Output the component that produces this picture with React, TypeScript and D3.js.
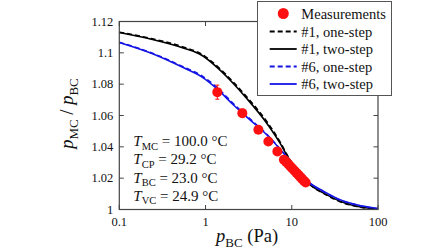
import React from "react";
import * as d3 from "d3";

// ---- data ----
const measP = [1.37, 2.67, 4.1, 5.35, 6.81, 8.1, 8.6, 9.1, 9.6, 10.1, 10.7, 11.3, 11.9, 12.5, 13.1, 13.8, 14.5];
const measR = [1.0749, 1.0615, 1.0509, 1.0434, 1.0371, 1.0318, 1.0304, 1.029, 1.0276, 1.0263, 1.0249, 1.0235, 1.0222, 1.0209, 1.0197, 1.0184, 1.0172];
const measErr = [0.0045, 0.0025, 0.0022, 0.002, 0.0018, 0.0015, 0.0015, 0.0015, 0.0015, 0.0015, 0.0015, 0.0015, 0.0015, 0.0015, 0.0015, 0.0015, 0.0015];

const s1P = [0.1, 0.235, 0.574, 0.894, 1.4, 2.18, 2.97, 5.13, 7.31, 9.14, 16.3, 23.3, 36.3, 56.8, 100];
const s1TwoStep = [1.113, 1.1087, 1.1028, 1.0986, 1.0901, 1.0795, 1.0712, 1.0551, 1.0424, 1.0329, 1.0159, 1.0106, 1.0053, 1.0021, 1.0003];
const s1OneStep = [1.1132, 1.1091, 1.1034, 1.0993, 1.0909, 1.0804, 1.0722, 1.0562, 1.0432, 1.0334, 1.0158, 1.0103, 1.005, 1.0019, 1.0002];

const s6P = [0.1, 0.235, 0.574, 0.894, 1.4, 2.08, 3.28, 5.13, 7.99, 12.5, 16.3, 23.3, 36.3, 56.8, 100];
const s6TwoStep = [1.1066, 1.0997, 1.0901, 1.0848, 1.0763, 1.067, 1.0572, 1.0477, 1.0361, 1.0233, 1.0168, 1.0117, 1.0063, 1.003, 1.0006];
const s6OneStep = [1.1068, 1.1, 1.0906, 1.0855, 1.0772, 1.0678, 1.0578, 1.048, 1.0362, 1.0232, 1.0166, 1.0114, 1.006, 1.0028, 1.0005];

const xTicks = [0.1, 1, 10, 100];
const xTickLabels = ["0.1", "1", "10", "100"];
const yTicks = [1, 1.02, 1.04, 1.06, 1.08, 1.1, 1.12];
const yTickLabels = ["1", "1.02", "1.04", "1.06", "1.08", "1.1", "1.12"];

const legendLabels = ["Measurements", "#1, one-step", "#1, two-step", "#6, one-step", "#6, two-step"];
const annotations = [
  ["T", "MC", " = 100.0 °C"],
  ["T", "CP", " = 29.2 °C"],
  ["T", "BC", " = 23.0 °C"],
  ["T", "VC", " = 24.9 °C"],
];

const FONT = "Liberation Serif, Times New Roman, DejaVu Serif, serif";
const BLUE = "#1414e6";
const RED = "#ff1010";
const ts = { fontFamily: FONT };

export default function App() {
  const W = 448, H = 252;
  const left = 119.3, right = 378, top = 21.5, bottom = 209.5;
  const x = d3.scaleLog().domain([0.1, 100]).range([left, right]);
  const y = d3.scaleLinear().domain([1, 1.12]).range([bottom, top]);

  const mk = (ps: number[], vs: number[]) =>
    d3.line<number>().x((_, i) => x(ps[i])).y((v) => y(v)).curve(d3.curveMonotoneX)(vs) || "";

  const series = [
    { d: mk(s1P, s1TwoStep), color: "#000", dash: undefined },
    { d: mk(s1P, s1OneStep), color: "#000", dash: "5,3" },
    { d: mk(s6P, s6TwoStep), color: BLUE, dash: undefined },
    { d: mk(s6P, s6OneStep), color: BLUE, dash: "5,3" },
  ];

  const tl = 4.5;
  const axisColor = "#444";

  const legX = 257.5, legY = 1.5, legW = 134, legH = 94;
  const legRows = [13.5, 31.5, 49, 66.5, 84];
  const legStyles = [
    null,
    { color: "#000", dash: "5,3" },
    { color: "#000", dash: undefined },
    { color: BLUE, dash: "5,3" },
    { color: BLUE, dash: undefined },
  ];

  return (
    <svg width={W} height={H} style={{ position: "absolute", left: 0, top: 0, background: "#fff", fontFamily: FONT }}>
      <rect x={0} y={0} width={W} height={H} fill="#fff" />
      {/* curves */}
      {series.map((s, i) => (
        <path key={i} d={s.d} fill="none" stroke={s.color} strokeWidth={1.6} strokeDasharray={s.dash} />
      ))}
      {/* error bars */}
      {measP.map((p, i) => (
        <g key={"e" + i} stroke={RED} strokeWidth={1}>
          <line x1={x(p)} x2={x(p)} y1={y(measR[i] - measErr[i])} y2={y(measR[i] + measErr[i])} />
          <line x1={x(p) - 2} x2={x(p) + 2} y1={y(measR[i] - measErr[i])} y2={y(measR[i] - measErr[i])} />
          <line x1={x(p) - 2} x2={x(p) + 2} y1={y(measR[i] + measErr[i])} y2={y(measR[i] + measErr[i])} />
        </g>
      ))}
      {/* measurements */}
      {measP.map((p, i) => (
        <circle key={"m" + i} cx={x(p)} cy={y(measR[i])} r={5} fill={RED} />
      ))}
      {/* frame */}
      <rect x={left} y={top} width={right - left} height={bottom - top} fill="none" stroke={axisColor} strokeWidth={1.2} />
      {xTicks.map((t, i) => (
        <g key={"xt" + i}>
          <line x1={x(t)} x2={x(t)} y1={bottom} y2={bottom - tl} stroke={axisColor} strokeWidth={1} />
          <line x1={x(t)} x2={x(t)} y1={top} y2={top + tl} stroke={axisColor} strokeWidth={1} />
          <text style={ts} x={x(t)} y={226} fontSize={12.5} textAnchor="middle" fill="#111">{xTickLabels[i]}</text>
        </g>
      ))}
      {yTicks.map((t, i) => (
        <g key={"yt" + i}>
          <line x1={left} x2={left + tl} y1={y(t)} y2={y(t)} stroke={axisColor} strokeWidth={1} />
          <line x1={right} x2={right - tl} y1={y(t)} y2={y(t)} stroke={axisColor} strokeWidth={1} />
          <text style={ts} x={left - 6} y={y(t) + 4.3} fontSize={12.5} textAnchor="end" fill="#111">{yTickLabels[i]}</text>
        </g>
      ))}
      {/* axis titles */}
      <text style={ts} x={216} y={242} fontSize={18.5} fill="#111">
        <tspan fontStyle="italic">p</tspan>
        <tspan fontSize={13} dy={5}>BC</tspan>
        <tspan dy={-5}> (Pa)</tspan>
      </text>
      <text style={ts} transform={`translate(73,${(top + bottom) / 2 - 2}) rotate(-90)`} fontSize={18.5} fill="#111" textAnchor="middle">
        <tspan fontStyle="italic">p</tspan>
        <tspan fontSize={13} dy={5}>MC</tspan>
        <tspan dy={-5}> / </tspan>
        <tspan fontStyle="italic">p</tspan>
        <tspan fontSize={13} dy={5}>BC</tspan>
      </text>
      {/* annotations */}
      {annotations.map((a, i) => (
        <text style={ts} key={"a" + i} x={133.3} y={146 + i * 18.3} fontSize={15} fill="#111">
          <tspan fontStyle="italic">{a[0]}</tspan>
          <tspan fontSize={10.5} dy={3.5}>{a[1]}</tspan>
          <tspan dy={-3.5}>{a[2]}</tspan>
        </text>
      ))}
      {/* legend */}
      <rect x={legX} y={legY} width={legW} height={legH} fill="#fff" stroke="#555" strokeWidth={1} />
      {legendLabels.map((lab, i) => (
        <g key={"l" + i}>
          {i === 0 ? (
            <circle cx={283.3} cy={legRows[i]} r={5.5} fill={RED} />
          ) : (
            <line x1={269.7} x2={296.7} y1={legRows[i]} y2={legRows[i]} stroke={legStyles[i]!.color} strokeWidth={1.8} strokeDasharray={legStyles[i]!.dash} />
          )}
          <text style={ts} x={301.3} y={legRows[i] + 5} fontSize={14.5} fill="#111">{lab}</text>
        </g>
      ))}
    </svg>
  );
}
